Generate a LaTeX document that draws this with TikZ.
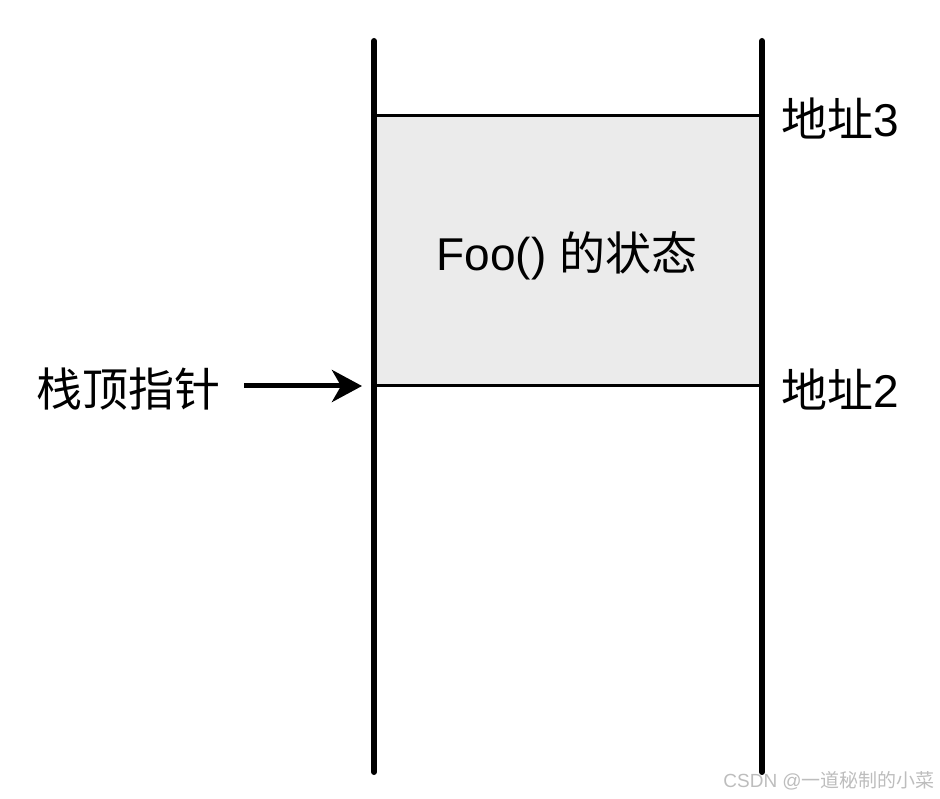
\documentclass[tikz,border=0pt]{standalone}
\usepackage{fontspec}
\setmainfont{Liberation Sans}
\newfontfamily\cjk{Noto Sans CJK SC}
\usetikzlibrary{arrows.meta}
\definecolor{boxgray}{HTML}{EBEBEB}
\definecolor{wmgray}{HTML}{BDBDBD}
\tikzset{
  rail/.style={line width=6pt, line cap=round},
  cell/.style={draw, line width=3pt, fill=boxgray},
  lbl/.style={font=\fontsize{46}{52}\selectfont, inner sep=0pt},
  ptr/.style={line width=5pt, -{Stealth[length=30pt,width=32pt,inset=9pt]}}
}
\begin{document}
\begin{tikzpicture}[x=1pt,y=-1pt]
\useasboundingbox (0,0) rectangle (940,799);
\path[cell] (374,116) rectangle (762,386);
\coordinate (lt) at (374,41);
\coordinate (lb) at (374,772);
\coordinate (rt) at (762,41);
\coordinate (rb) at (762,772);
\draw[rail] (lt) -- (lb);
\draw[rail] (rt) -- (rb);
\node[lbl] (foo) at (567,256) {Foo() {\cjk 的状态}};
\node[lbl, anchor=west] (a3) at (781,118) {{\cjk 地址}3};
\node[lbl, anchor=west] (a2) at (781,389) {{\cjk 地址}2};
\node[lbl, anchor=west] (sp) at (36,389) {\cjk 栈顶指针};
\coordinate (tip) at (362,386);
\draw[ptr] (244,386) -- (tip);
\node[font=\fontsize{19}{22}\selectfont, text=wmgray, anchor=east, inner sep=0pt] (wm) at (935,781) {CSDN @{\cjk 一道秘制的小菜}};
\end{tikzpicture}
\end{document}
